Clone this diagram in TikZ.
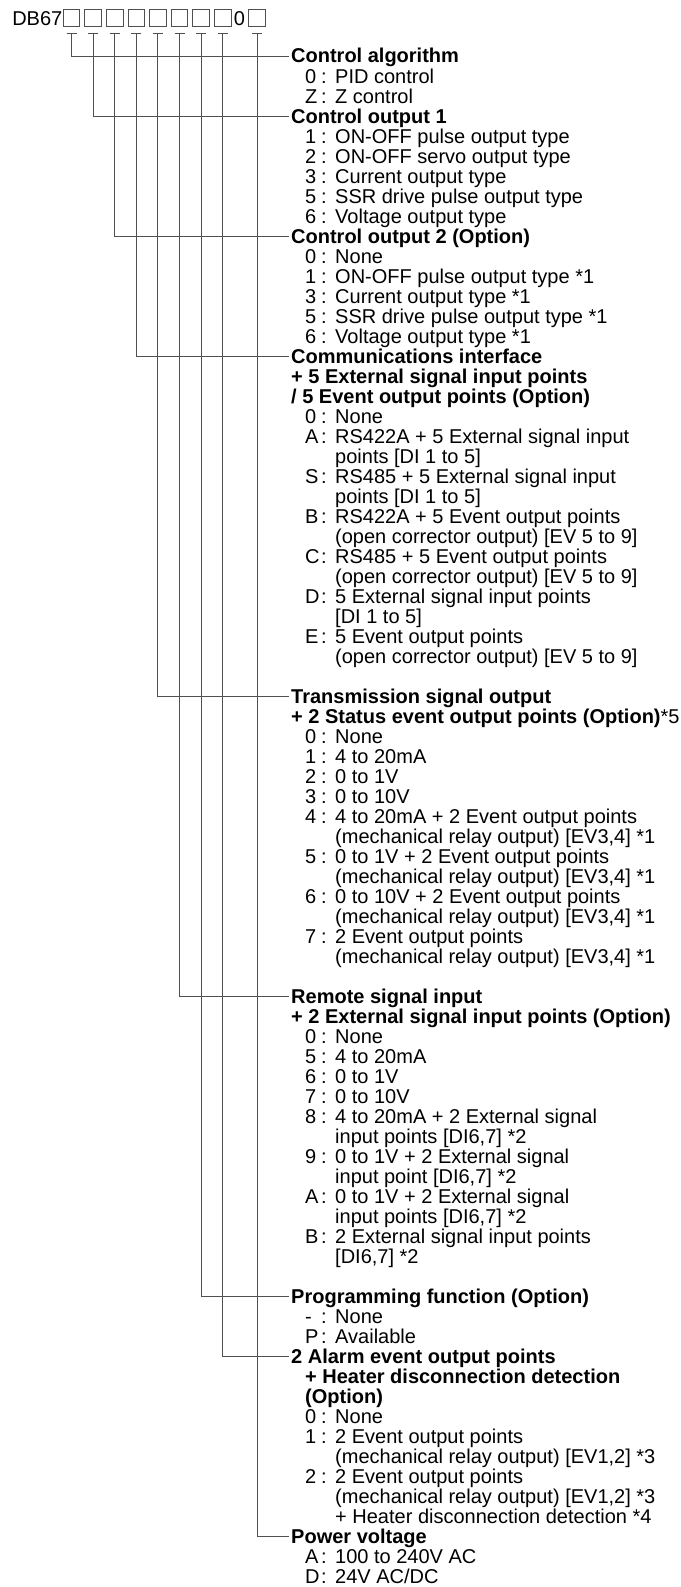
\documentclass[tikz,border=0pt]{standalone}
\usepackage{fontspec}
\setmainfont{Liberation Sans}
\usetikzlibrary{positioning}
\definecolor{LeadGray}{RGB}{80,80,80}
\tikzset{
  codebox/.style={draw=LeadGray,line width=0.9pt,minimum width=16.5pt,minimum height=16.5pt,inner sep=0pt},
  codetext/.style={font=\fontsize{20}{20}\selectfont,inner sep=0pt,anchor=base},
  head/.style={font=\fontsize{20}{20}\selectfont\bfseries,anchor=west,inner xsep=2pt,inner ysep=0pt,text height=14pt,text depth=0pt},
  body/.style={font=\fontsize{20}{20}\selectfont,align=left,inner xsep=2pt,inner ysep=0pt},
  lead/.style={draw=LeadGray,line width=0.9pt}
}
\newcommand{\optline}[2]{\rule{0pt}{15pt}\hspace*{14pt}\makebox[16pt][l]{#1}\makebox[14pt][l]{:}#2}
\newcommand{\optmore}[1]{\rule{0pt}{15pt}\hspace*{44pt}#1}
\newcommand{\optsub}[1]{\rule{0pt}{15pt}{\bfseries #1}}
\newcommand{\optsubin}[1]{\rule{0pt}{15pt}\hspace*{14pt}{\bfseries #1}}

\begin{document}
\begin{tikzpicture}[x=1pt,y=-1pt]
\useasboundingbox (0,0) rectangle (680,1587);

% model code
\node[codetext,anchor=base east] (code) at (62.5,25.5) {DB67};
\foreach \i in {1,...,8}
  \node[codebox] (b\i) at ({71.5+21.6*(\i-1)},18) {};
\node[codetext] (zero) at (239.5,25.5) {0};
\node[codebox] (b9) at (257,18) {};
\foreach \i in {1,...,9} {
  \coordinate (t\i) at ([yshift=-6.5pt]b\i.south);
  \draw[lead] ([xshift=-5pt]t\i) -- ([xshift=5pt]t\i);
}

% field titles
\node[head] (alg) at (289,56) {Control algorithm};
\node[head] (outa) at (289,116) {Control output 1};
\node[head] (outb) at (289,236) {Control output 2 (Option)};
\node[head] (comm) at (289,356) {Communications interface};
\node[head] (trans) at (289,696) {Transmission signal output};
\node[head] (remote) at (289,996) {Remote signal input};
\node[head] (prog) at (289,1296) {Programming function (Option)};
\node[head] (alarm) at (289,1356) {2 Alarm event output points};
\node[head] (power) at (289,1536) {Power voltage};

% leads
\foreach \i/\h in {1/alg,2/outa,3/outb,4/comm,5/trans,6/remote,7/prog,8/alarm,9/power}
  \draw[lead] (t\i) |- (\h.west);

% options
\node[body,below=5pt of alg.base west,anchor=north west] (algopts) {%
  \optline{0}{PID control}\\
  \optline{Z}{Z control}};
\node[body,below=5pt of outa.base west,anchor=north west] (outaopts) {%
  \optline{1}{ON-OFF pulse output type}\\
  \optline{2}{ON-OFF servo output type}\\
  \optline{3}{Current output type}\\
  \optline{5}{SSR drive pulse output type}\\
  \optline{6}{Voltage output type}};
\node[body,below=5pt of outb.base west,anchor=north west] (outbopts) {%
  \optline{0}{None}\\
  \optline{1}{ON-OFF pulse output type *1}\\
  \optline{3}{Current output type *1}\\
  \optline{5}{SSR drive pulse output type *1}\\
  \optline{6}{Voltage output type *1}};
\node[body,below=5pt of comm.base west,anchor=north west] (commopts) {%
  \optsub{+ 5 External signal input points}\\
  \optsub{/ 5 Event output points (Option)}\\
  \optline{0}{None}\\
  \optline{A}{RS422A + 5 External signal input}\\
  \optmore{points [DI 1 to 5]}\\
  \optline{S}{RS485 + 5 External signal input}\\
  \optmore{points [DI 1 to 5]}\\
  \optline{B}{RS422A + 5 Event output points}\\
  \optmore{(open corrector output) [EV 5 to 9]}\\
  \optline{C}{RS485 + 5 Event output points}\\
  \optmore{(open corrector output) [EV 5 to 9]}\\
  \optline{D}{5 External signal input points}\\
  \optmore{[DI 1 to 5]}\\
  \optline{E}{5 Event output points}\\
  \optmore{(open corrector output) [EV 5 to 9]}};
\node[body,below=5pt of trans.base west,anchor=north west] (transopts) {%
  \optsub{+ 2 Status event output points (Option)\mdseries *5}\\
  \optline{0}{None}\\
  \optline{1}{4 to 20mA}\\
  \optline{2}{0 to 1V}\\
  \optline{3}{0 to 10V}\\
  \optline{4}{4 to 20mA + 2 Event output points}\\
  \optmore{(mechanical relay output) [EV3,4] *1}\\
  \optline{5}{0 to 1V + 2 Event output points}\\
  \optmore{(mechanical relay output) [EV3,4] *1}\\
  \optline{6}{0 to 10V + 2 Event output points}\\
  \optmore{(mechanical relay output) [EV3,4] *1}\\
  \optline{7}{2 Event output points}\\
  \optmore{(mechanical relay output) [EV3,4] *1}};
\node[body,below=5pt of remote.base west,anchor=north west] (remoteopts) {%
  \optsub{+ 2 External signal input points (Option)}\\
  \optline{0}{None}\\
  \optline{5}{4 to 20mA}\\
  \optline{6}{0 to 1V}\\
  \optline{7}{0 to 10V}\\
  \optline{8}{4 to 20mA + 2 External signal}\\
  \optmore{input points [DI6,7] *2}\\
  \optline{9}{0 to 1V + 2 External signal}\\
  \optmore{input point [DI6,7] *2}\\
  \optline{A}{0 to 1V + 2 External signal}\\
  \optmore{input points [DI6,7] *2}\\
  \optline{B}{2 External signal input points}\\
  \optmore{[DI6,7] *2}};
\node[body,below=5pt of prog.base west,anchor=north west] (progopts) {%
  \optline{-}{None}\\
  \optline{P}{Available}};
\node[body,below=5pt of alarm.base west,anchor=north west] (alarmopts) {%
  \optsubin{+ Heater disconnection detection}\\
  \optsubin{(Option)}\\
  \optline{0}{None}\\
  \optline{1}{2 Event output points}\\
  \optmore{(mechanical relay output) [EV1,2] *3}\\
  \optline{2}{2 Event output points}\\
  \optmore{(mechanical relay output) [EV1,2] *3}\\
  \optmore{+ Heater disconnection detection *4}};
\node[body,below=5pt of power.base west,anchor=north west] (poweropts) {%
  \optline{A}{100 to 240V AC}\\
  \optline{D}{24V AC/DC}};
\end{tikzpicture}
\end{document}
